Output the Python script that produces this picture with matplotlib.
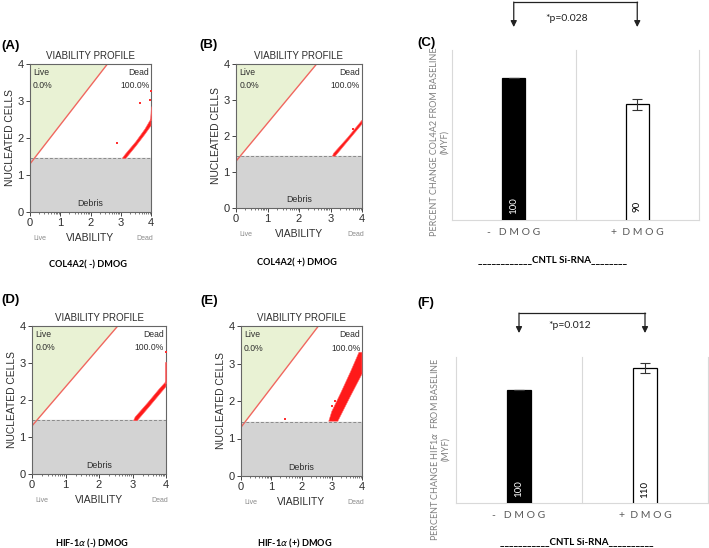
import matplotlib.pyplot as plt
from matplotlib.patches import Polygon

W, H = 709, 548

# ---- viability profile data ----
gate_line_x = [0.0, 2.56]
gate_line_y = [1.3, 4.0]
debris_cut = 1.45
live_pct = "0.0%"
dead_pct = "100.0%"

# dead-cell clouds, as outlines in (viability, nucleated cells) units
bands_a = [
    [(3.05, 1.45), (3.17, 1.45), (3.5, 1.78), (3.8, 2.1), (4.0, 2.33), (4.0, 2.52),
     (3.8, 2.24), (3.5, 1.9), (3.15, 1.56)],
    [(3.975, 2.48), (4.0, 2.48), (4.0, 2.86), (3.985, 2.86)],
]
strays_a = [(4.0, 3.28), (3.64, 2.95), (2.86, 1.87), (3.98, 3.02)]

bands_b = [
    [(3.06, 1.44), (3.15, 1.44), (3.55, 1.86), (4.0, 2.33), (4.0, 2.44),
     (3.55, 1.96), (3.1, 1.52)],
]
strays_b = [(3.72, 2.2)]

bands_d = [
    [(3.03, 1.44), (3.14, 1.44), (3.5, 1.82), (3.85, 2.2), (4.0, 2.36), (4.0, 2.5),
     (3.8, 2.3), (3.45, 1.92), (3.08, 1.54)],
    [(3.98, 2.45), (4.0, 2.45), (4.0, 3.02), (3.985, 3.02)],
]
strays_d = [(4.0, 3.3)]

bands_e = [
    [(2.9, 1.46), (3.2, 1.46), (3.6, 2.1), (4.0, 2.72), (4.0, 3.3), (3.9, 3.3),
     (3.62, 2.78), (3.3, 2.22), (3.0, 1.72)],
]
strays_e = [(3.0, 1.87), (1.45, 1.52), (3.1, 2.0)]

# ---- bar chart data ----
categories = ['-   D M O G', '+  D M O G']
col4a2_values = [100, 90]
col4a2_err = [0, 2.1]
hif1a_values = [100, 110]
hif1a_err = [0, 2.3]

fig = plt.figure(figsize=(W / 100, H / 100), dpi=100)
fig.patch.set_facecolor('white')

FLOW_FONT = ['Liberation Sans', 'DejaVu Sans']
BAR_FONT = ['Lato', 'DejaVu Sans']
TXT = '#2e2e2e'


def px_rect(left, top, right, bottom):
    return [left / W, 1 - bottom / H, (right - left) / W, (bottom - top) / H]


def px_text(x, y, s, **kw):
    fig.text(x / W, 1 - y / H, s, **kw)


def off(ax, s, xy, dy_px, dx_px=0, **kw):
    # text placed relative to the axes, offset in pixels
    ax.annotate(s, xy=xy, xycoords='axes fraction', xytext=(dx_px * 0.72, dy_px * 0.72),
                textcoords='offset points', annotation_clip=False, **kw)


def draw_viability(rect, bands, strays):
    ax = fig.add_axes(px_rect(*rect))
    ax.set_xlim(0, 4)
    ax.set_ylim(0, 4)
    ax.axhspan(0, debris_cut, color='#d3d3d3', zorder=0)
    slope = (gate_line_y[1] - gate_line_y[0]) / (gate_line_x[1] - gate_line_x[0])
    x_cut = gate_line_x[0] + (debris_cut - gate_line_y[0]) / slope
    ax.add_patch(Polygon([(0, debris_cut), (x_cut, debris_cut), (gate_line_x[1], 4), (0, 4)],
                         closed=True, facecolor='#e9f2d4', edgecolor='none', zorder=0))
    ax.plot(gate_line_x, gate_line_y, color='#f0675f', lw=1.0, zorder=2)
    ax.axhline(debris_cut, color='#8a8a8a', ls=(0, (3, 2)), lw=0.7, zorder=2)
    for band in bands:
        bx, by = zip(*band)
        ax.fill(bx, by, facecolor='#ff1a1a', edgecolor='#ff6b6b', lw=0.4, zorder=3, clip_on=False)
    sx, sy = zip(*strays)
    ax.scatter(sx, sy, s=2, marker='s', color='#ff3030', lw=0, zorder=3, clip_on=False)

    ax.set_xticks(range(5))
    ax.set_yticks(range(5))
    minor = [i + m for i in range(4) for m in (0.301, 0.477, 0.602, 0.699, 0.778, 0.845, 0.903, 0.954)]
    ax.set_xticks(minor, minor=True)
    ax.tick_params(which='major', length=3, width=0.7, labelsize=8, pad=1.5,
                   colors='#444444', labelcolor=TXT)
    ax.tick_params(which='minor', length=1.5, width=0.5, colors='#444444')
    for lab in ax.get_xticklabels() + ax.get_yticklabels():
        lab.set_family(FLOW_FONT)
    for sp in ax.spines.values():
        sp.set_color('#666666')
        sp.set_linewidth(0.8)

    ax.text(0.1, 3.9, 'Live', fontsize=6.2, color=TXT, va='top', family=FLOW_FONT)
    ax.text(0.1, 3.53, live_pct, fontsize=6.2, color=TXT, va='top', family=FLOW_FONT)
    ax.text(3.94, 3.9, 'Dead', fontsize=6.2, color=TXT, va='top', ha='right', family=FLOW_FONT)
    ax.text(3.94, 3.53, dead_pct, fontsize=6.2, color=TXT, va='top', ha='right', family=FLOW_FONT)
    ax.text(2.0, 0.12, 'Debris', fontsize=6.4, color=TXT, ha='center', va='bottom', family=FLOW_FONT)

    off(ax, 'VIABILITY PROFILE', (0.5, 1), 8, ha='center', va='center', fontsize=7,
        color=TXT, family=FLOW_FONT)
    off(ax, 'VIABILITY', (0.5, 0), -26, ha='center', va='center', fontsize=7.5,
        color=TXT, family=FLOW_FONT)
    off(ax, 'Live', (0, 0), -26, dx_px=3, ha='left', va='center', fontsize=5,
        color='#8a8a8a', family=FLOW_FONT)
    off(ax, 'Dead', (1, 0), -26, dx_px=2, ha='right', va='center', fontsize=5,
        color='#8a8a8a', family=FLOW_FONT)
    off(ax, 'NUCLEATED CELLS', (0, 0.5), 0, dx_px=-20, ha='center', va='center', rotation=90,
        fontsize=7.4, color=TXT, family=FLOW_FONT)
    return ax


def draw_bars(rect, values, errs, ylim, pval, pval_x, y_pval, y_top, y_tip):
    ax = fig.add_axes(px_rect(*rect))
    x = list(range(len(values)))
    ax.bar(x, values, width=0.19, color=['black', 'white'], edgecolor='black', lw=0.9, zorder=3)
    ax.errorbar(x, values, yerr=errs, fmt='none', ecolor='#333333', capsize=3.5, lw=0.8,
                capthick=0.8, zorder=4)
    ax.set_xlim(-0.5, 1.5)
    ax.set_ylim(*ylim)
    for xv in (-0.5, 0.5, 1.5):
        ax.axvline(xv, color='#d9d9d9', lw=0.8, clip_on=False, zorder=1)
    for name, sp in ax.spines.items():
        sp.set_visible(name == 'bottom')
    ax.spines['bottom'].set_color('#d9d9d9')
    ax.set_yticks([])
    ax.set_xticks(x)
    ax.set_xticklabels(categories, family=BAR_FONT, fontsize=7.5, color='#595959')
    ax.tick_params(axis='x', length=0, pad=6)
    for i, v in enumerate(values):
        ax.annotate(str(v), xy=(i, ylim[0]), xytext=(0, 14 * 0.72), textcoords='offset points',
                    rotation=90, ha='center', va='center', fontsize=7, family=BAR_FONT,
                    color='white' if i == 0 else 'black', zorder=5)

    tr = ax.get_xaxis_transform()
    ax.plot([0, 1], [y_top, y_top], color='#222222', lw=0.9, transform=tr, clip_on=False)
    for xv in (0, 1):
        ax.annotate('', xy=(xv, y_tip), xytext=(xv, y_top), xycoords=tr, textcoords=tr,
                    arrowprops=dict(arrowstyle='-|>', color='#222222', lw=0.9,
                                    mutation_scale=9, shrinkA=0, shrinkB=0))
    ax.text(pval_x, y_pval, pval, transform=tr, ha='center', va='center', fontsize=7.5,
            family=BAR_FONT, color='#222222')
    return ax


# panels A, B, D, E
draw_viability((30, 64, 151, 212), bands_a, strays_a)
draw_viability((236, 64, 362, 208), bands_b, strays_b)
draw_viability((32, 326, 166, 474), bands_d, strays_d)
draw_viability((241, 326, 362, 476), bands_e, strays_e)

# panels C, F
draw_bars((452, 50, 699, 220), col4a2_values, col4a2_err, (45.4, 110.8),
          '*p=0.028', 0.43, 1.188, 1.282, 1.135)
draw_bars((456, 357, 708, 503), hif1a_values, hif1a_err, (48.6, 115.0),
          '*p=0.012', 0.405, 1.219, 1.301, 1.164)

# axis titles of bar panels
px_text(440, 142, 'PERCENT CHANGE COL4A2 FROM BASELINE\n(MYF)', rotation=90, ha='center',
        va='center', fontsize=6.5, color='#7f7f7f', family=BAR_FONT, multialignment='center')
px_text(440, 449, 'PERCENT CHANGE HIF1$\\alpha$  FROM BASELINE\n(MYF)', rotation=90, ha='center',
        va='center', fontsize=6.5, color='#7f7f7f', family=BAR_FONT, multialignment='center')
px_text(552, 260, '____________CNTL Si-RNA________', ha='center', va='center', fontsize=7,
        fontweight='bold', family=BAR_FONT)
px_text(577, 542, '___________CNTL Si-RNA__________', ha='center', va='center', fontsize=7,
        fontweight='bold', family=BAR_FONT)

# captions under the cytometer plots
px_text(88, 265, 'COL4A2( -) DMOG', ha='center', va='center', fontsize=6.6, fontweight='bold',
        family=BAR_FONT)
px_text(297, 263, 'COL4A2( +) DMOG', ha='center', va='center', fontsize=6.6, fontweight='bold',
        family=BAR_FONT)
px_text(92, 543, 'HIF-1$\\alpha$ (-) DMOG', ha='center', va='center', fontsize=6.6,
        fontweight='bold', family=BAR_FONT)
px_text(295, 543, 'HIF-1$\\alpha$ (+) DMOG', ha='center', va='center', fontsize=6.6,
        fontweight='bold', family=BAR_FONT)

# panel letters
for letter, (lx, ly) in {'(A)': (1, 46), '(B)': (199, 45), '(C)': (417, 43),
                         '(D)': (1, 300), '(E)': (200, 301), '(F)': (417, 303)}.items():
    px_text(lx, ly, letter, ha='left', va='center', fontsize=9.5, fontweight='bold',
            family=FLOW_FONT)

fig.savefig('out.png', dpi=100)
